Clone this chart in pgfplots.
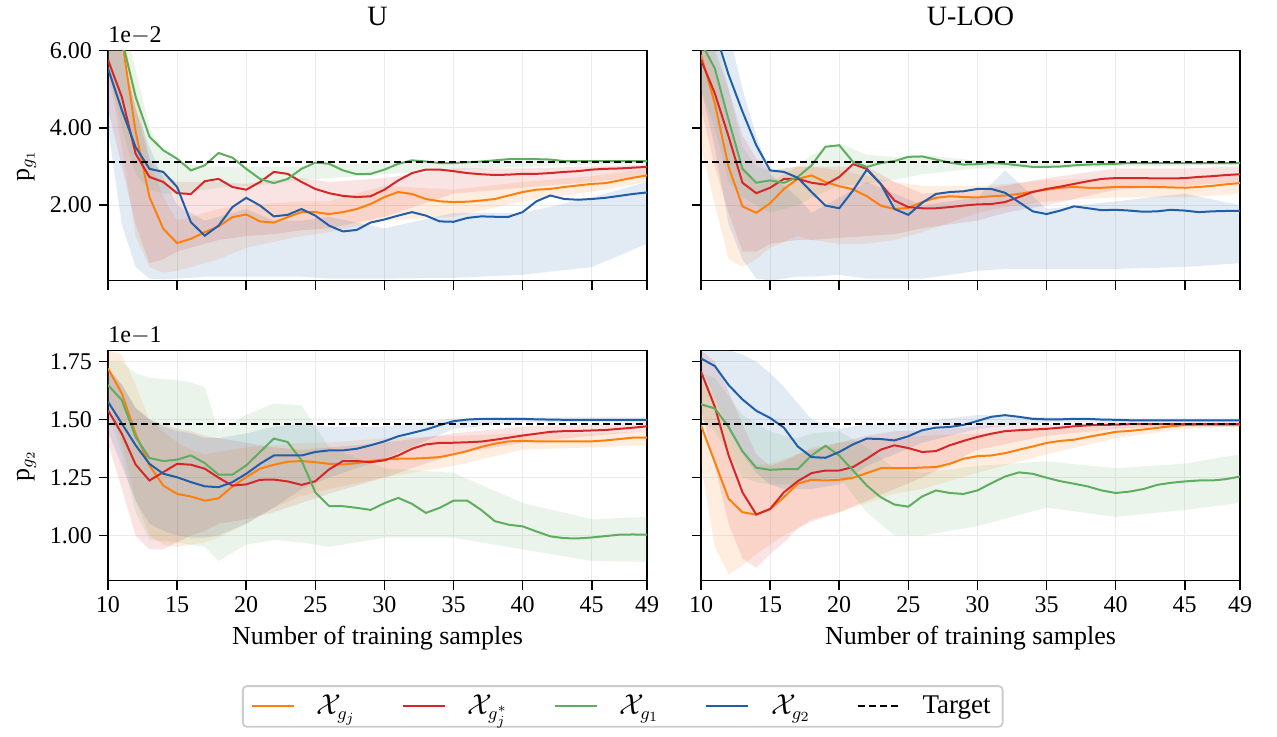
\documentclass[border=0pt]{standalone}
\usepackage{fontspec}
\setmainfont{Liberation Serif}
\usepackage{pgfplots}
\usepackage{pgfplotstable}
\usepgfplotslibrary{groupplots,fillbetween}
\pgfplotsset{compat=1.18}

\definecolor{cO}{RGB}{255,127,14}
\definecolor{cR}{RGB}{214,39,40}
\definecolor{cG}{RGB}{95,173,95}
\definecolor{cB}{RGB}{33,94,170}

% mean curves (o = X_gj, r = X_gj*, g = X_g1, b = X_g2)
\pgfplotstableread{
x o r g b
10 7.0 5.76 7.5 5.54
11 6.3 4.8 6.3 4.46
12 3.9 3.33 4.8 3.5
13 2.21 2.73 3.77 2.94
14 1.39 2.6 3.42 2.86
15 1.02 2.31 3.2 2.47
16 1.13 2.29 2.9 1.56
17 1.3 2.62 3.03 1.21
18 1.45 2.68 3.35 1.47
19 1.69 2.47 3.23 1.95
20 1.76 2.4 2.94 2.19
21 1.58 2.6 2.68 1.99
22 1.55 2.86 2.57 1.71
23 1.69 2.81 2.68 1.75
24 1.82 2.6 2.94 1.9
25 1.82 2.42 3.1 1.73
26 1.77 2.31 3.07 1.47
27 1.82 2.24 2.9 1.32
28 1.9 2.21 2.8 1.36
29 2.03 2.23 2.81 1.55
30 2.21 2.4 2.92 1.63
31 2.34 2.64 3.07 1.73
32 2.29 2.83 3.16 1.82
33 2.16 2.92 3.13 1.73
34 2.1 2.92 3.09 1.58
35 2.08 2.88 3.09 1.57
36 2.09 2.83 3.11 1.67
37 2.12 2.8 3.13 1.71
38 2.16 2.78 3.16 1.7
39 2.25 2.79 3.19 1.7
40 2.34 2.81 3.19 1.82
41 2.4 2.81 3.19 2.1
42 2.42 2.83 3.18 2.25
43 2.47 2.86 3.14 2.16
44 2.51 2.88 3.14 2.14
45 2.55 2.92 3.14 2.16
46 2.57 2.94 3.14 2.19
47 2.64 2.95 3.14 2.24
48 2.71 2.97 3.14 2.29
49 2.77 2.99 3.14 2.33
}\lineTL

\pgfplotstableread{
x o r g b
10 5.89 5.76 6.2 7.5
11 4.63 4.89 5.54 6.5
12 2.99 3.77 4.2 5.37
13 1.97 2.58 2.94 4.42
14 1.8 2.31 2.58 3.55
15 2.05 2.45 2.64 2.9
16 2.42 2.68 2.58 2.86
17 2.68 2.68 2.73 2.71
18 2.77 2.58 3.03 2.34
19 2.6 2.53 3.51 1.99
20 2.49 2.73 3.55 1.92
21 2.41 3.06 3.12 2.38
22 2.23 2.94 2.99 2.92
23 1.99 2.55 3.09 2.55
24 1.9 2.12 3.14 1.9
25 1.93 1.95 3.25 1.75
26 2.08 1.92 3.26 2.06
27 2.19 1.92 3.18 2.29
28 2.23 1.95 3.1 2.34
29 2.21 1.99 3.05 2.36
30 2.2 2.02 3.06 2.42
31 2.23 2.03 3.09 2.42
32 2.25 2.08 3.07 2.32
33 2.29 2.21 3.03 2.08
34 2.35 2.34 2.99 1.84
35 2.4 2.42 2.99 1.77
36 2.45 2.48 3.0 1.86
37 2.47 2.55 3.03 1.97
38 2.45 2.62 3.05 1.92
39 2.45 2.68 3.06 1.87
40 2.47 2.7 3.07 1.88
41 2.47 2.7 3.09 1.86
42 2.47 2.7 3.09 1.83
43 2.47 2.69 3.09 1.84
44 2.46 2.69 3.09 1.88
45 2.45 2.7 3.09 1.86
46 2.47 2.73 3.09 1.82
47 2.5 2.75 3.09 1.84
48 2.54 2.78 3.09 1.85
49 2.57 2.8 3.09 1.85
}\lineTR

\pgfplotstableread{
x o r g b
10 1.721 1.54 1.649 1.577
11 1.613 1.439 1.584 1.483
12 1.439 1.306 1.425 1.389
13 1.302 1.237 1.334 1.309
14 1.215 1.273 1.321 1.266
15 1.179 1.309 1.327 1.251
16 1.168 1.305 1.345 1.23
17 1.15 1.288 1.312 1.212
18 1.16 1.249 1.262 1.208
19 1.211 1.215 1.262 1.23
20 1.251 1.22 1.302 1.266
21 1.288 1.24 1.36 1.309
22 1.305 1.241 1.418 1.345
23 1.318 1.233 1.403 1.345
24 1.321 1.218 1.324 1.345
25 1.316 1.234 1.186 1.36
26 1.309 1.285 1.126 1.367
27 1.306 1.321 1.126 1.367
28 1.312 1.321 1.119 1.374
29 1.321 1.316 1.11 1.389
30 1.328 1.324 1.139 1.406
31 1.331 1.345 1.162 1.428
32 1.331 1.374 1.136 1.442
33 1.334 1.393 1.097 1.457
34 1.338 1.399 1.119 1.476
35 1.35 1.4 1.15 1.493
36 1.364 1.402 1.15 1.5
37 1.382 1.405 1.11 1.503
38 1.396 1.413 1.061 1.503
39 1.406 1.422 1.046 1.503
40 1.408 1.431 1.039 1.503
41 1.406 1.439 1.017 1.501
42 1.406 1.447 0.996 1.5
43 1.406 1.45 0.988 1.499
44 1.406 1.451 0.987 1.499
45 1.406 1.453 0.991 1.499
46 1.41 1.455 0.997 1.499
47 1.416 1.46 1.003 1.499
48 1.422 1.465 1.004 1.499
49 1.422 1.471 1.003 1.499
}\lineBL

\pgfplotstableread{
x o r g b
10 1.475 1.707 1.566 1.764
11 1.316 1.555 1.548 1.731
12 1.158 1.345 1.468 1.649
13 1.1 1.186 1.363 1.587
14 1.09 1.09 1.292 1.538
15 1.114 1.114 1.283 1.507
16 1.165 1.186 1.286 1.465
17 1.223 1.234 1.286 1.384
18 1.24 1.269 1.345 1.338
19 1.237 1.28 1.387 1.335
20 1.24 1.28 1.345 1.36
21 1.249 1.295 1.28 1.393
22 1.269 1.331 1.215 1.418
23 1.29 1.37 1.165 1.416
24 1.29 1.389 1.133 1.41
25 1.29 1.377 1.124 1.428
26 1.293 1.36 1.168 1.454
27 1.295 1.364 1.194 1.465
28 1.309 1.389 1.183 1.468
29 1.331 1.408 1.179 1.477
30 1.342 1.425 1.194 1.494
31 1.345 1.439 1.225 1.512
32 1.355 1.45 1.254 1.519
33 1.37 1.454 1.272 1.512
34 1.384 1.457 1.266 1.503
35 1.399 1.46 1.249 1.501
36 1.408 1.465 1.234 1.501
37 1.413 1.471 1.223 1.503
38 1.425 1.475 1.211 1.503
39 1.436 1.477 1.194 1.5
40 1.447 1.478 1.183 1.499
41 1.451 1.48 1.189 1.497
42 1.457 1.48 1.2 1.497
43 1.464 1.48 1.218 1.497
44 1.471 1.48 1.227 1.497
45 1.477 1.48 1.233 1.497
46 1.478 1.48 1.237 1.497
47 1.478 1.48 1.237 1.497
48 1.478 1.48 1.243 1.497
49 1.478 1.48 1.254 1.497
}\lineBR

% shaded bands (lower / upper per series)
\pgfplotstableread{
x olo ohi rlo rhi glo ghi blo bhi
10 5.5 7 4.5 7 5.5 7 4 6.5
11 3.5 6.5 3 6 4 7 1.5 6
12 1.2 5 1.5 4.5 2.8 5.5 0.4 4.5
13 0.4 3.2 0.5 3.2 2.4 4 0.1 3.5
14 0.25 2.2 0.6 2.8 2.3 3.4 0.08 2.7
15 0.3 1.6 0.8 2.6 2.3 3.1 0.1 2.0
16 0.4 1.7 0.9 2.6 2.35 3.05 0.12 1.8
17 0.5 1.8 1.0 2.6 2.4 3.0 0.15 1.6
18 0.6 1.9 1.1 2.6 2.45 3.0 0.15 1.7
20 0.9 2.0 1.2 2.55 2.5 3.0 0.15 1.9
22 1.05 2.05 1.25 2.65 2.55 3.0 0.15 1.6
24 1.2 2.1 1.35 2.7 2.65 3.0 0.15 1.6
26 1.3 2.1 1.4 2.6 2.7 3.05 0.1 1.7
30 1.6 2.5 1.7 2.7 2.8 3.1 0.1 1.4
35 1.7 2.4 2.3 2.95 2.9 3.12 0.12 1.8
40 2.1 2.6 2.45 2.95 3.0 3.15 0.2 1.8
45 2.35 2.75 2.6 3.0 3.05 3.15 0.4 2.2
49 2.6 2.95 2.75 3.05 3.08 3.15 1.0 2.6
}\bandTL

\pgfplotstableread{
x olo ohi rlo rhi glo ghi blo bhi
10 3.5 6.5 4.5 6.5 5 7 5 7
11 2 5.5 3 6 4 6.5 3.5 7
12 0.6 4 1.8 5 2.6 5 1.5 6.5
13 0.4 3 0.8 3.8 2.2 3.5 0.6 5
14 0.6 2.5 0.8 3.2 2.0 3.0 0.1 3.8
15 0.9 2.6 1.0 2.9 1.8 2.9 0.05 2.8
16 1.05 2.8 1.05 2.95 1.9 2.95 0.1 2.5
17 1.2 3.0 1.1 3.0 2.0 3.0 0.15 2.2
18 1.1 3.0 1.1 3.0 2.2 3.3 0.15 1.8
20 1.0 2.9 1.15 3.0 2.5 3.6 0.2 2.2
22 1.0 2.75 1.2 3.0 2.55 3.3 0.1 2.6
24 1.1 2.6 1.25 2.6 2.65 3.25 0.1 2.3
26 1.3 2.5 1.4 2.3 2.8 3.3 0.1 2.0
30 1.8 2.5 1.6 2.4 2.95 3.15 0.3 2.2
32 1.95 2.55 1.8 2.5 2.95 3.12 0.35 2.9
35 2.1 2.65 2.0 2.7 2.95 3.1 0.35 1.9
40 2.2 2.7 2.4 2.95 3.0 3.12 0.35 2.1
45 2.2 2.7 2.5 2.95 3.03 3.12 0.4 2.3
49 2.3 2.8 2.6 3.0 3.05 3.12 0.5 2.0
}\bandTR

\pgfplotstableread{
x olo ohi rlo rhi glo ghi blo bhi
10 1.6 1.8 1.4 1.72 1.55 1.75 1.45 1.72
11 1.4 1.78 1.2 1.65 1.35 1.75 1.3 1.65
12 1.15 1.65 1.0 1.55 1.1 1.7 1.15 1.55
13 1.0 1.5 0.94 1.5 0.98 1.68 1.05 1.5
14 0.96 1.45 0.94 1.48 0.975 1.675 1.02 1.47
15 0.95 1.4 0.97 1.46 0.97 1.67 1.0 1.45
16 0.96 1.37 1.0 1.45 0.96 1.66 0.99 1.44
17 0.97 1.35 1.02 1.43 0.95 1.64 0.99 1.42
18 0.99 1.36 1.05 1.42 0.89 1.45 1.0 1.42
20 1.05 1.38 1.07 1.4 0.96 1.52 1.05 1.44
22 1.12 1.39 1.1 1.38 0.98 1.57 1.12 1.47
24 1.17 1.4 1.14 1.37 0.97 1.56 1.2 1.48
26 1.2 1.4 1.18 1.38 0.95 1.38 1.25 1.47
30 1.25 1.42 1.25 1.4 0.99 1.29 1.33 1.47
35 1.3 1.43 1.35 1.44 0.99 1.27 1.46 1.505
40 1.37 1.44 1.40 1.47 0.94 1.14 1.49 1.51
45 1.38 1.44 1.43 1.48 0.89 1.07 1.49 1.51
49 1.39 1.45 1.45 1.49 0.885 1.08 1.49 1.51
}\bandBL

\pgfplotstableread{
x olo ohi rlo rhi glo ghi blo bhi
10 1.3 1.7 1.55 1.8 1.5 1.7 1.72 1.8
11 0.95 1.6 1.3 1.75 1.45 1.68 1.6 1.8
12 0.83 1.45 1.05 1.62 1.35 1.6 1.45 1.8
13 0.87 1.35 0.9 1.48 1.25 1.52 1.35 1.78
14 0.92 1.3 0.86 1.35 1.23 1.48 1.27 1.75
15 0.96 1.31 0.92 1.3 1.22 1.45 1.22 1.7
16 1.0 1.33 0.97 1.32 1.22 1.43 1.2 1.64
17 1.03 1.35 1.03 1.35 1.22 1.42 1.2 1.57
18 1.07 1.38 1.06 1.37 1.24 1.44 1.2 1.5
20 1.1 1.4 1.1 1.4 1.25 1.45 1.22 1.46
22 1.14 1.41 1.15 1.43 1.1 1.38 1.3 1.48
24 1.18 1.42 1.2 1.45 1.0 1.29 1.35 1.48
26 1.2 1.43 1.25 1.45 1.0 1.27 1.4 1.49
30 1.27 1.44 1.37 1.47 1.04 1.3 1.46 1.52
35 1.35 1.46 1.43 1.48 1.12 1.32 1.49 1.51
40 1.42 1.47 1.46 1.49 1.08 1.29 1.49 1.505
45 1.46 1.48 1.47 1.49 1.11 1.31 1.49 1.505
49 1.47 1.48 1.47 1.49 1.14 1.35 1.49 1.505
}\bandBR

% #1 table, #2 column prefix (o/r/g/b), #3 colour, #4 unique id
\newcommand{\band}[4]{%
  \addplot[name path=#4lo, draw=none, forget plot] table[x=x, y=#2lo] {#1};
  \addplot[name path=#4hi, draw=none, forget plot] table[x=x, y=#2hi] {#1};
  \addplot[#3, draw=none, fill opacity=0.13, forget plot] fill between[of=#4lo and #4hi];
}
\newcommand{\panel}[3]{% band table, line table, id
  \band{#1}{o}{cO}{#3o}
  \band{#1}{r}{cR}{#3r}
  \band{#1}{g}{cG}{#3g}
  \band{#1}{b}{cB}{#3b}
  \addplot[cO, line width=1pt] table[x=x, y=o] {#2};
  \addplot[cR, line width=1pt] table[x=x, y=r] {#2};
  \addplot[cG, line width=1pt] table[x=x, y=g] {#2};
  \addplot[cB, line width=1pt] table[x=x, y=b] {#2};
}

\begin{document}
\begin{tikzpicture}
\begin{groupplot}[
  group style={group size=2 by 2, horizontal sep=27pt, vertical sep=35pt},
  width=269.5pt, height=115pt, scale only axis,
  xmin=10, xmax=49, xtick={10,15,20,25,30,35,40,45,49},
  grid=major, major grid style={line width=0.5pt, draw=black!8},
  axis line style={line width=0.9pt},
  tick align=outside, tick pos=left, major tick length=4.5pt,
  every tick/.style={black, line width=0.8pt},
  tick label style={font=\rmfamily\fontsize{12}{14}\selectfont},
  /pgf/number format/assume math mode=true,
  yticklabel style={/pgf/number format/.cd, fixed, fixed zerofill, precision=2},
  label style={font=\rmfamily\fontsize{13}{15}\selectfont},
  title style={font=\rmfamily\fontsize{14}{16}\selectfont, yshift=3pt},
  legend image code/.code={\draw[#1] (0pt,0pt) -- (21pt,0pt);},
]
\nextgroupplot[title={U}, ymin=0.05, ymax=6, ytick={2,4,6}, xticklabels={},
  ylabel={p$_{g_1}$}]
\panel{\bandTL}{\lineTL}{A}
\addplot[black, line width=1pt, dash pattern=on 3.5pt off 2pt] coordinates {(10,3.12) (49,3.12)};

\nextgroupplot[title={U-LOO}, ymin=0.05, ymax=6, ytick={2,4,6}, xticklabels={}, yticklabels={}]
\panel{\bandTR}{\lineTR}{B}
\addplot[black, line width=1pt, dash pattern=on 3.5pt off 2pt] coordinates {(10,3.12) (49,3.12)};

\nextgroupplot[ymin=0.805, ymax=1.798, ytick={1,1.25,1.5,1.75},
  ylabel={p$_{g_2}$}, xlabel={Number of training samples},
  legend columns=5,
  legend style={at={(0.955,-0.455)}, anchor=north, draw=black!20, line width=0.9pt,
    rounded corners=2pt, font=\rmfamily\fontsize{13.5}{16}\selectfont,
    inner xsep=4pt, inner ysep=2.5pt,
    /tikz/every odd column/.append style={column sep=9pt},
    /tikz/every even column/.append style={column sep=21pt}},
  ]
\panel{\bandBL}{\lineBL}{C}
\addplot[black, line width=1pt, dash pattern=on 3.5pt off 2pt] coordinates {(10,1.483) (49,1.483)};
\addlegendentry{$\mathcal{X}_{g_j}$}
\addlegendentry{$\mathcal{X}_{g_j^*}$}
\addlegendentry{$\mathcal{X}_{g_1}$}
\addlegendentry{$\mathcal{X}_{g_2}$}
\addlegendentry{Target}

\nextgroupplot[ymin=0.805, ymax=1.798, ytick={1,1.25,1.5,1.75}, yticklabels={},
  xlabel={Number of training samples}]
\panel{\bandBR}{\lineBR}{D}
\addplot[black, line width=1pt, dash pattern=on 3.5pt off 2pt] coordinates {(10,1.483) (49,1.483)};
\end{groupplot}
\node[anchor=south west, inner sep=0pt, font=\rmfamily\fontsize{12}{14}\selectfont]
  at ([yshift=3pt]group c1r1.north west) {1e$-$2};
\node[anchor=south west, inner sep=0pt, font=\rmfamily\fontsize{12}{14}\selectfont]
  at ([yshift=3pt]group c1r2.north west) {1e$-$1};
\path (group c1r1.north west) ++(-54pt,22pt) coordinate (bbtl);
\path (group c2r2.south east) ++(18.5pt,-78pt) coordinate (bbbr);
\path (bbtl) rectangle (bbbr);
\end{tikzpicture}
\end{document}
